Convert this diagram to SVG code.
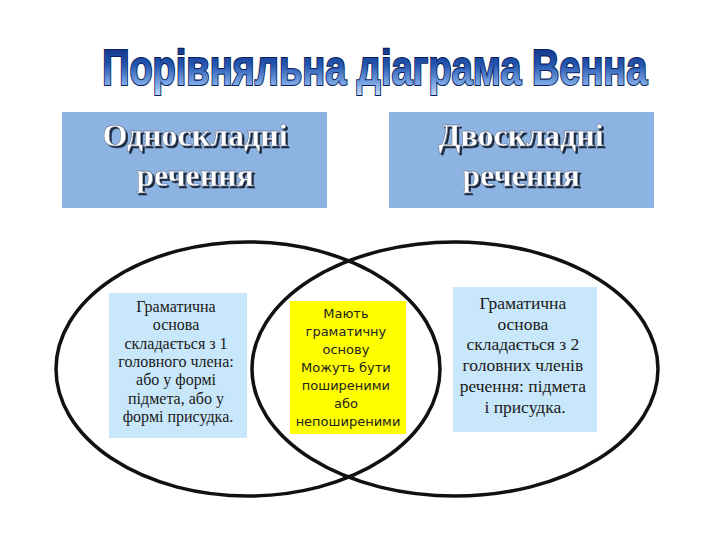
<svg xmlns="http://www.w3.org/2000/svg" width="720" height="540" viewBox="0 0 720 540">
<defs>
<linearGradient id="titleGrad" x1="0" y1="0" x2="0" y2="1">
<stop offset="0" stop-color="#0b2a78"/>
<stop offset="0.45" stop-color="#2456b0"/>
<stop offset="0.8" stop-color="#7fa9e6"/>
<stop offset="1" stop-color="#c4dbf7"/>
</linearGradient>
<filter id="hdrShadow" x="-10%" y="-20%" width="120%" height="150%">
<feDropShadow dx="2" dy="2" stdDeviation="0.4" flood-color="#1f2a40" flood-opacity="1"/>
</filter>
<style>
.hdr{fill:#8db3e2}
.hdrtxt{font-family:"Liberation Serif","Times New Roman",serif;font-weight:bold;font-size:32px;text-anchor:middle;fill:#ffffff;stroke:#4a5670;stroke-width:0.4;filter:url(#hdrShadow)}
.bluebox{fill:#c9e7fa}
.serif{font-family:"Liberation Serif","Times New Roman",serif;fill:#1a1a1a;text-anchor:middle}
.mid{font-family:"DejaVu Sans","Verdana",sans-serif;font-size:13px;fill:#222222;text-anchor:middle}
.set{fill:none;stroke:#111111;stroke-width:3.5}
</style>
</defs>
<rect width="720" height="540" fill="#ffffff"/>
<g id="title">
<text transform="scale(0.768,1)" x="488" y="85" textLength="710" lengthAdjust="spacingAndGlyphs" font-family="Liberation Sans, Arial, sans-serif" font-weight="bold" font-size="50" text-anchor="middle" fill="url(#titleGrad)" stroke="#0a1f5c" stroke-width="2.2" paint-order="stroke">Порівняльна діаграма Венна</text>
</g>
<g id="header-left">
<rect class="hdr" x="62" y="112" width="265" height="96"/>
<text class="hdrtxt" x="195" y="146"><tspan x="195">Односкладні</tspan><tspan x="195" dy="40">речення</tspan></text>
</g>
<g id="header-right">
<rect class="hdr" x="389" y="112" width="265" height="96"/>
<text class="hdrtxt" x="521" y="146"><tspan x="521">Двоскладні</tspan><tspan x="521" dy="40">речення</tspan></text>
</g>
<g id="left-only">
<rect class="bluebox" x="109" y="293" width="138" height="145"/>
<text class="serif" font-size="16" x="178" y="312">
<tspan x="178">Граматична</tspan>
<tspan x="178" dy="18.3">основа</tspan>
<tspan x="178" dy="18.3">складається з 1</tspan>
<tspan x="178" dy="18.3">головного члена:</tspan>
<tspan x="178" dy="18.3">або у формі</tspan>
<tspan x="178" dy="18.3">підмета, або  у</tspan>
<tspan x="178" dy="18.3">формі присудка.</tspan>
</text>
</g>
<g id="intersection">
<rect x="290" y="301" width="116" height="133" fill="#ffff00"/>
<text class="mid" x="348" y="318">
<tspan x="348">Мають</tspan>
<tspan x="348" dy="18">граматичну</tspan>
<tspan x="348" dy="18">основу</tspan>
<tspan x="348" dy="18">Можуть бути</tspan>
<tspan x="348" dy="18">поширеними</tspan>
<tspan x="348" dy="18">або</tspan>
<tspan x="348" dy="18">непоширеними</tspan>
</text>
</g>
<g id="right-only">
<rect class="bluebox" x="453" y="287" width="144" height="145"/>
<text class="serif" font-size="17.5" x="525" y="309">
<tspan x="525">Граматична</tspan>
<tspan x="525" dy="20.7">основа</tspan>
<tspan x="525" dy="20.7">складається з 2</tspan>
<tspan x="525" dy="20.7">головних членів</tspan>
<tspan x="525" dy="20.7">речення: підмета</tspan>
<tspan x="525" dy="20.7">і присудка.</tspan>
</text>
</g>
<g id="connectors">
<ellipse id="set-left" class="set" cx="248" cy="369" rx="192" ry="127"/>
<ellipse id="set-right" class="set" cx="455" cy="369" rx="203" ry="127"/>
</g>
</svg>
